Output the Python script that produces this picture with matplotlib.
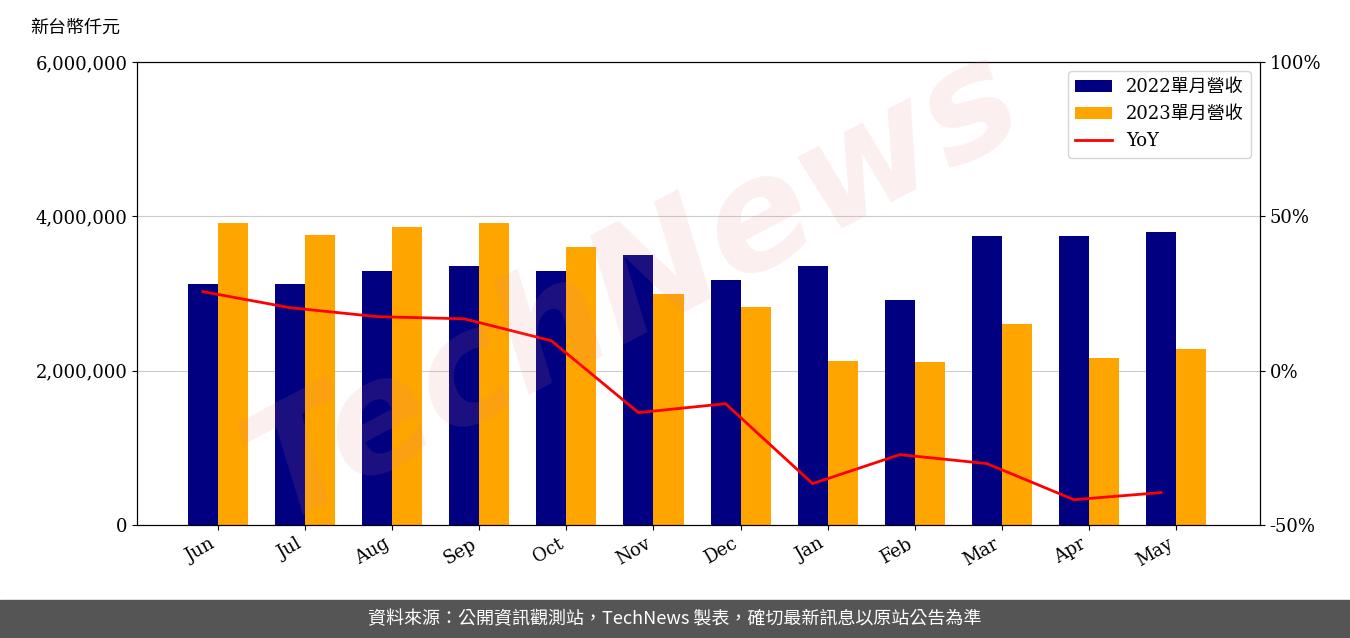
import matplotlib
matplotlib.use("Agg")
import matplotlib.pyplot as plt
import numpy as np
from matplotlib.ticker import FuncFormatter

months = ["Jun","Jul","Aug","Sep","Oct","Nov","Dec","Jan","Feb","Mar","Apr","May"]
rev2022 = [3120000,3120000,3290000,3360000,3290000,3500000,3170000,3360000,2910000,3750000,3750000,3800000]
rev2023 = [3920000,3760000,3860000,3920000,3600000,3000000,2820000,2130000,2110000,2600000,2160000,2280000]
yoy = [25.6,20.4,17.5,16.8,9.7,-13.6,-10.7,-36.6,-27.2,-30.1,-41.8,-39.5]

plt.rcParams['font.family'] = ['DejaVu Serif', 'Noto Sans CJK TC']
fig = plt.figure(figsize=(13.5,6.38), dpi=100)
ax = fig.add_axes([137/1350, 1-525/638, (1260-137)/1350, (525-62)/638])
x = np.arange(len(months))
w = 0.345
ax.bar(x-w/2, rev2022, w, color='#000080', label='2022單月營收', zorder=2)
ax.bar(x+w/2, rev2023, w, color='#FFA500', label='2023單月營收', zorder=2)
ax.set_ylim(0, 6000000)
ax.set_yticks([0,2000000,4000000,6000000])
ax.yaxis.set_major_formatter(FuncFormatter(lambda v,p: f"{int(v):,}"))
ax.grid(axis='y', color='#cccccc', zorder=0)
ax.set_xticks(x)
ax.set_xticklabels(months, rotation=30, ha='right')
ax.set_xlim(-0.93, 11.964)
ax.tick_params(labelsize=13)
ax2 = ax.twinx()
ax2.plot(x - w/2, yoy, color='red', lw=2, label='YoY')
ax2.set_ylim(-50, 100)
ax2.set_yticks([-50,0,50,100])
ax2.yaxis.set_major_formatter(FuncFormatter(lambda v,p: f"{int(v)}%"))
ax2.tick_params(labelsize=13)
h1,l1 = ax.get_legend_handles_labels()
h2,l2 = ax2.get_legend_handles_labels()
ax2.legend(h1+h2, l1+l2, loc='upper right', prop={'family':['DejaVu Serif','Noto Sans CJK TC'],'size':13})
fig.text(30/1350, 1-28/638, '新台幣仟元', fontsize=13, family='Noto Sans CJK TC', va='center')
fig.text(0.47, 0.55, 'TechNews', fontsize=110, color='#e08080', alpha=0.13, rotation=28,
         ha='center', va='center', family='DejaVu Sans', style='italic', fontweight='bold')
fig.patches.append(plt.Rectangle((0,0),1,38/638, transform=fig.transFigure, color='#555555', zorder=0))
fig.text(0.5, 19/638, '資料來源：公開資訊觀測站，TechNews 製表，確切最新訊息以原站公告為準',
         color='white', fontsize=13, ha='center', va='center', family='Noto Sans CJK TC')
fig.savefig('out.png', dpi=100)
